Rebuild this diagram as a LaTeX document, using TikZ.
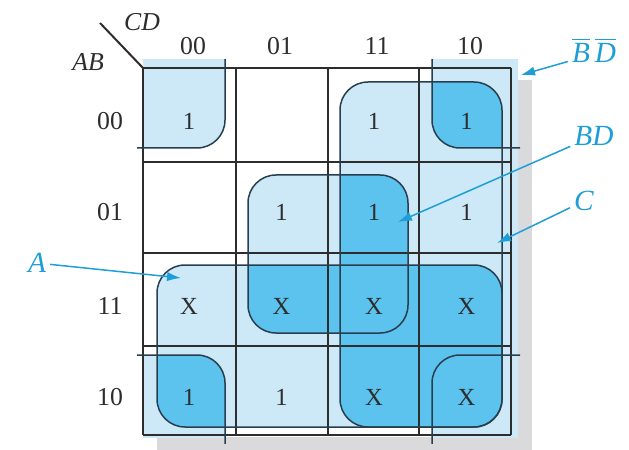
\documentclass[tikz,border=0pt]{standalone}
\usepackage{fontspec}
\setmainfont{Liberation Serif}
\usetikzlibrary{arrows.meta}
\definecolor{Ink}{RGB}{45,45,45}
\definecolor{Rim}{RGB}{40,62,78}
\definecolor{Pale}{RGB}{205,233,248}
\definecolor{Deep}{RGB}{92,195,238}
\definecolor{Cyan}{RGB}{30,158,214}
\definecolor{Shadow}{RGB}{218,218,220}
\newcommand{\olbar}[1]{$\overline{\hbox{#1}\vphantom{\Big|}}$}
% loop shapes, in pixel units
\newcommand{\shpA}{(157,265) rectangle (502,427)}
\newcommand{\shpC}{(340,82) rectangle (502,427)}
\newcommand{\shpBD}{(248,175) rectangle (408,333)}
\newcommand{\shpTL}{(100,20) rectangle (225,148)}
\newcommand{\shpTR}{(432,20) rectangle (560,148)}
\newcommand{\shpBL}{(100,355) rectangle (225,480)}
\newcommand{\shpBR}{(432,355) rectangle (560,480)}

\begin{document}
\begin{tikzpicture}[x=0.3mm, y=-0.3mm,
    loop/.style={rounded corners=8.4mm},
    gridline/.style={Ink, line width=0.75mm},
    edge/.style={Rim, line width=0.45mm},
    hd/.style={font=\fontsize{22}{24}\selectfont, text=Ink, inner sep=0pt},
    entry/.style={font=\fontsize{21}{23}\selectfont, text=Ink, inner sep=0pt},
    var/.style={font=\fontsize{22}{24}\selectfont\itshape, text=Ink, inner sep=0pt},
    tag/.style={font=\fontsize{25}{27}\selectfont\itshape, text=Cyan, inner sep=1.2mm},
    ptr/.style={-{Latex[length=4.2mm,width=2.8mm]}, Cyan, line width=0.45mm}
    ]
    \useasboundingbox (0,0) rectangle (629,450);

    % shadow and panel
    \fill[Shadow] (157,80) rectangle (532,452);
    \fill[white] (136,56) rectangle (518,437);
    \fill[Pale] (502,62) rectangle (518,437);

    % light fills
    \fill[Pale, loop] \shpA;
    \fill[Pale, loop] \shpC;
    \fill[Pale, loop] \shpBD;
    \begin{scope}
      \clip (143,60) rectangle (518,437);
      \fill[Pale, loop] \shpTL;
      \fill[Pale, loop] \shpTR;
      \fill[Pale, loop] \shpBL;
      \fill[Pale, loop] \shpBR;
    \end{scope}

    % overlaps
    \begin{scope} \clip[loop] \shpA; \fill[Deep, loop] \shpC; \end{scope}
    \begin{scope} \clip[loop] \shpA; \fill[Deep, loop] \shpBD; \end{scope}
    \begin{scope} \clip[loop] \shpC; \fill[Deep, loop] \shpBD; \end{scope}
    \begin{scope} \clip[loop] \shpA; \fill[Deep, loop] \shpBL; \end{scope}
    \begin{scope} \clip[loop] \shpA; \fill[Deep, loop] \shpBR; \end{scope}
    \begin{scope} \clip[loop] \shpC; \fill[Deep, loop] \shpTR; \end{scope}

    % map grid
    \foreach \gx in {143,236,328,419,511}
      \draw[gridline] (\gx,68) -- (\gx,435);
    \foreach \gy in {68,162,253,346,435}
      \draw[gridline] (143,\gy) -- (511,\gy);
    \draw[Ink, line width=0.6mm] (100,23) -- (143,68);

    % loop outlines
    \draw[edge, loop] \shpA;
    \draw[edge, loop] \shpC;
    \draw[edge, loop] \shpBD;
    \begin{scope}
      \clip (137,60) rectangle (520,443);
      \draw[edge, loop] \shpTL;
      \draw[edge, loop] \shpTR;
      \draw[edge, loop] \shpBL;
      \draw[edge, loop] \shpBR;
    \end{scope}

    % headings
    \node[var] (cd) at (142,22) {CD};
    \node[var] (ab) at (88,62) {AB};
    \foreach \lab/\x [count=\c] in {00/193, 01/280, 11/377, 10/470}
      \node[hd] (col\c) at (\x,46) {\lab};
    \foreach \lab/\y [count=\r] in {00/121, 01/212, 11/306, 10/397}
      \node[hd] (row\r) at (110,\y) {\lab};

    % cell values
    \foreach \y/\vals [count=\r] in {121/{1,,1,1}, 212/{,1,1,1},
                                     306/{X,X,X,X}, 397/{1,1,X,X}}
      \foreach \v [count=\c] in \vals
        \node[entry] (m-\r-\c) at ({96.5+92.5*\c},\y) {\v};

    % group labels
    \node[tag] (nbd) at (594,54) {\olbar{B}\,\olbar{D}};
    \node[tag] (bd)  at (594,136) {BD};
    \node[tag] (cc)  at (584,201) {C};
    \node[tag] (aa)  at (37,263) {A};
    \coordinate (pnbd) at (521,75);
    \coordinate (pbd)  at (398,222);
    \coordinate (pcc)  at (497,243);
    \coordinate (paa)  at (181,278);
    \foreach \a/\b in {nbd/pnbd, bd/pbd, cc/pcc, aa/paa}
      \draw[ptr] (\a) -- (\b);
  \end{tikzpicture}
\end{document}
